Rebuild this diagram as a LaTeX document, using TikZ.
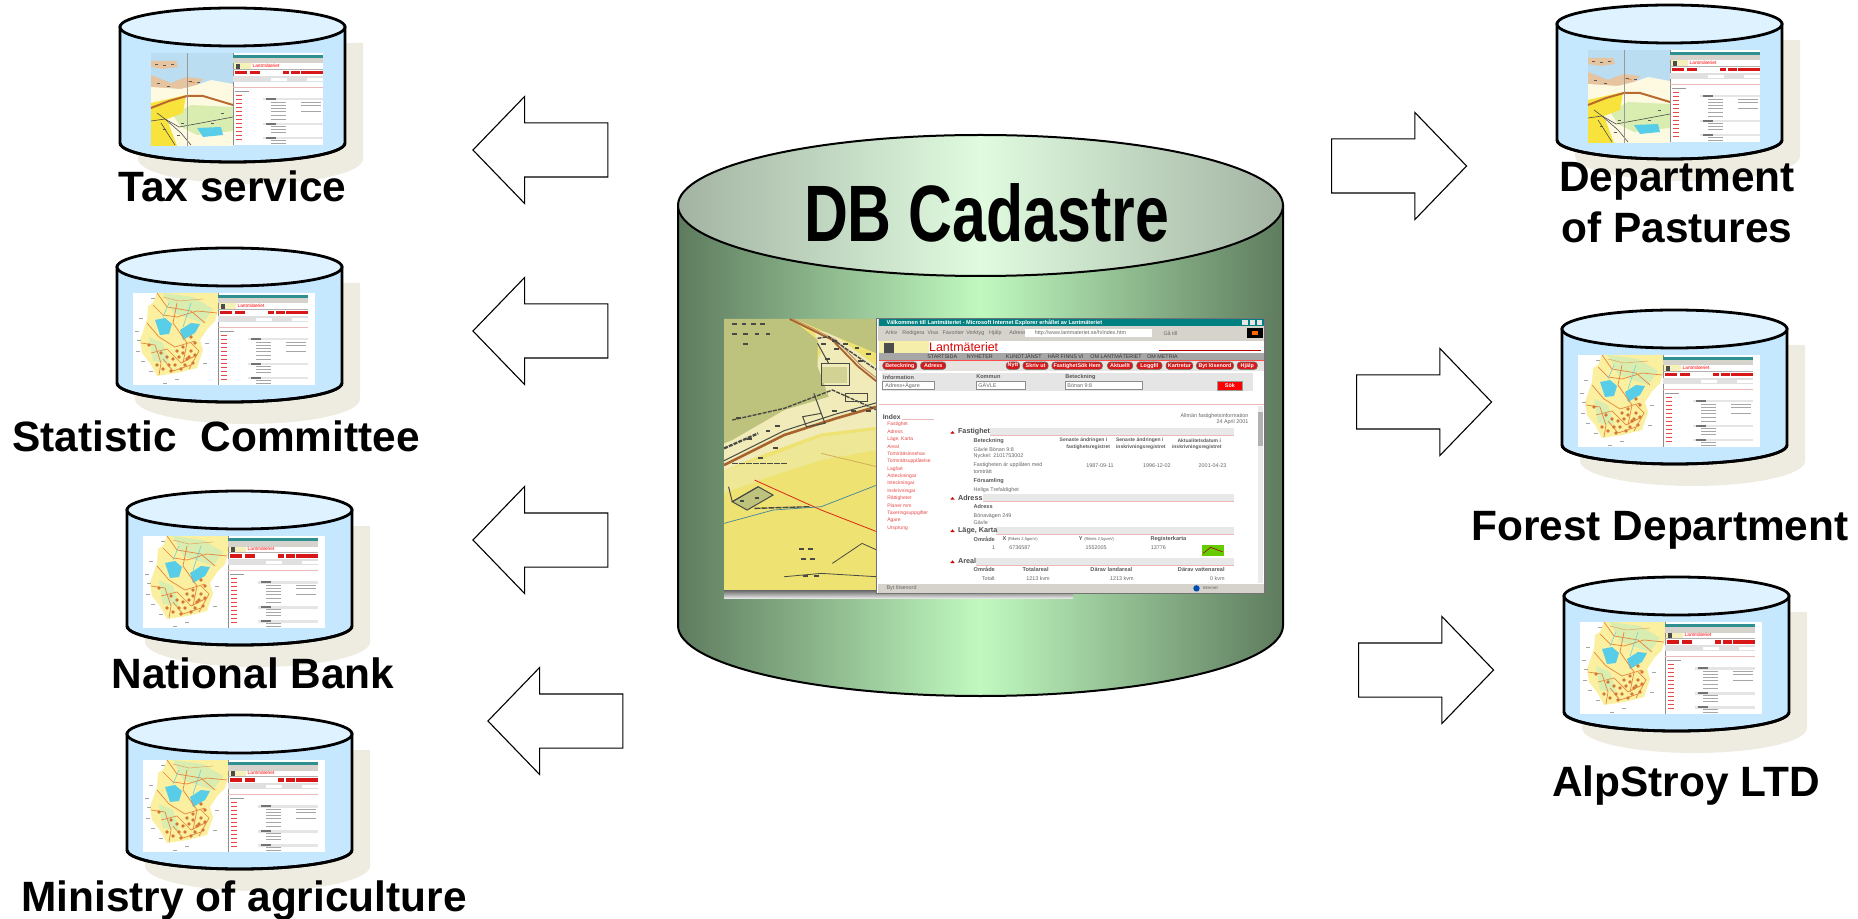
\documentclass[tikz,border=0pt]{standalone}
\usepackage{fontspec}
\setmainfont{Liberation Sans}
\usetikzlibrary{shapes.arrows}

\definecolor{cylbody}{HTML}{C6E8FF}
\definecolor{cyltop}{HTML}{DFF2FF}
\definecolor{cylshadow}{HTML}{EEECE1}
\definecolor{greenedge}{HTML}{5E7B5E}
\definecolor{greenmid}{HTML}{C0F9C0}
\definecolor{topedge}{HTML}{A3B3A3}
\definecolor{topmid}{HTML}{E0FBE0}
\definecolor{barteal}{HTML}{008080}
\definecolor{barlight}{HTML}{2E9090}
\definecolor{wingrey}{HTML}{D6D3CC}
\definecolor{btnred}{HTML}{D81818}
\definecolor{linkred}{HTML}{E84848}
\definecolor{rulepink}{HTML}{EDB8B8}
\definecolor{mapyellow}{HTML}{EDE272}
\definecolor{mapolive}{HTML}{BDC27C}
\definecolor{mapcream}{HTML}{F0EBB8}
\definecolor{maproad}{HTML}{A8622E}
\definecolor{mapdark}{HTML}{4A4A44}
\definecolor{mapsea}{HTML}{BBDDF2}
\definecolor{maplake}{HTML}{58CDE8}
\definecolor{maporange}{HTML}{E8853A}
\definecolor{mapisland}{HTML}{E6C4A0}
\definecolor{mapstrong}{HTML}{F7E33C}
\definecolor{mapland}{HTML}{FBEFA0}
\definecolor{mappale}{HTML}{D9EDB0}

\newcommand\thumbbrowser{
	\fill[white] (0,0) rectangle (90,92);
	\draw[black!45,line width=.5pt] (0,0) -- (0,92);
	\fill[barlight] (0,2) rectangle (90,5);
	\fill[wingrey] (0,5) rectangle (90,10.5);
	\fill[mapyellow!50!white] (1,10.5) rectangle (18,16);
	\fill[black!70] (3,11) rectangle (7,17);
	\node[font=\fontsize{2.4}{3}\selectfont,text=red,inner sep=0] (thumbtitle) at (33,13) {Lantmäteriet};
	\fill[black!30] (0,16) rectangle (90,17);
	\foreach \bx/\bw in {2/12,17/10,50/6,58/9,68/22}
		\fill[btnred] (\bx,18) rectangle ++(\bw,3.5);
	\fill[black!12] (0,23) rectangle (90,29);
	\fill[white] (38,25) rectangle ++(16,3);
	\fill[white] (74,25) rectangle ++(16,3);
	\fill[rulepink] (0,34) rectangle (90,34.6);
	\fill[black!40] (2,38) rectangle ++(14,1);
	\foreach \ly in {42,46,50,54,58,62,66,70,74,78,82,86}
		\fill[linkred] (3,\ly) rectangle ++(6,1);
	\foreach \sy in {45,70,84} {
		\fill[black!10] (30,\sy) rectangle (90,\sy+2.5);
		\fill[black!55] (33,\sy) rectangle ++(10,1.6);
	}
	\foreach \ly in {49,52,55,58,62,66,73,76,79,87,90}
		\fill[black!35] (38,\ly) rectangle ++(15,.8);
	\foreach \ly in {49,52,58}
		\fill[black!35] (68,\ly) rectangle ++(20,.8);
}

\newcommand\coastthumb{
	\begin{scope}[shift={(31,45)}]
		\fill[mapsea] (0,0) rectangle (82,93);
		\fill[mapisland] (0,8) -- (25,8) -- (27,14) -- (12,16) -- (0,14) -- cycle;
		\fill[mapisland] (0,22) -- (20,30) -- (30,26) -- (36,24) -- (52,26) -- (46,33) -- (30,38) -- (0,36) -- cycle;
		\fill[white!70!mapland] (0,34) -- (30,36) -- (46,32) -- (60,27) -- (82,31) -- (82,93) -- (0,93) -- cycle;
		\fill[mappale] (22,62) -- (40,52) -- (82,54) -- (82,78) -- (46,82) -- (30,74) -- cycle;
		\fill[mapstrong] (0,50) -- (35,42) -- (32,60) -- (16,66) -- (26,93) -- (0,93) -- cycle;
		\fill[maplake] (46,75) -- (70,74) -- (72,82) -- (52,84) -- cycle;
		\draw[maporange!80!black,line width=1pt] (0,55) -- (18,48) -- (36,43) -- (52,43) -- (82,52);
		\draw[black!70,line width=.3pt] (0,68) -- (14,66) -- (28,74) -- (50,70) -- (82,64);
		\draw[black!70,line width=.3pt] (10,70) -- (24,92);
		\draw[black!70,line width=.3pt] (6,60) -- (14,66) -- (30,80) -- (40,92);
		\draw[black!40,line width=.2pt] (36,0) -- (36,93);
		\draw[maporange,line width=.3pt] (36,28) -- (44,30);
		\foreach \dx/\dy in {4/11,12/12,20/11,6/30,16/33,38/28,46/29,12/76,26/82,60/70,70/60,30/70}
			\fill[black!65] (\dx,\dy) rectangle ++(3,.9);
	\end{scope}
	\begin{scope}[shift={(113,45)}]
		\thumbbrowser
	\end{scope}
}

\newcommand\swedenthumb{
	\begin{scope}[shift={(16,45)}]
		\fill[white] (0,0) rectangle (182,92);
		\fill[mapland] (24,0) -- (20,10) -- (15,13) -- (14,27) -- (7,47) -- (9,60) -- (17,70) -- (24,83) -- (44,80) -- (64,75) -- (70,57) -- (67,47) -- (75,35) -- (82,28) -- (85,18) -- (85,0) -- cycle;
		\fill[mappale] (30,0) -- (60,4) -- (80,16) -- (70,30) -- (40,20) -- cycle;
		\fill[mappale] (16,44) -- (30,50) -- (36,70) -- (20,68) -- cycle;
		\fill[maplake] (22,27) -- (32,25) -- (39,31) -- (36,41) -- (27,42) -- cycle;
		\fill[maplake] (47,37) -- (58,30) -- (67,31) -- (62,40) -- (50,47) -- cycle;
		\draw[maporange,line width=.35pt] (24,0) -- (34,14) -- (58,18) -- (72,30);
		\draw[maporange,line width=.35pt] (14,30) -- (26,44) -- (42,54) -- (62,48);
		\draw[maporange,line width=.35pt] (18,60) -- (34,56) -- (48,70) -- (64,62);
		\draw[maporange,line width=.35pt] (30,66) -- (40,78) -- (58,72);
		\draw[maporange,line width=.35pt] (44,10) -- (40,30) -- (54,50) -- (50,70);
		\draw[maporange,line width=.35pt] (20,12) -- (30,22) -- (44,24) -- (64,18) -- (84,20);
		\draw[maporange,line width=.35pt] (8,50) -- (22,52) -- (28,70) -- (26,82);
		\draw[maporange,line width=.35pt] (58,50) -- (66,58) -- (56,76);
		\draw[maporange!70!mappale,line width=.25pt] (30,4) -- (46,8) -- (70,6);
		\draw[maplake,line width=.25pt] (36,10) -- (30,24);
		\draw[maplake,line width=.25pt] (58,10) -- (50,34);
		\foreach \dx/\dy in {24/72,30/76,36/72,46/64,50/60,54/66,58/58,60/70,62/50,48/76,40/66,16/52,42/72,52/72,56/64,44/58,62/62,34/64,28/60,38/78,50/54,58/44}
			\fill[maporange!90!black] (\dx,\dy) circle[radius=.9pt];
		\foreach \dx/\dy in {6/25,2/38,4/47,3/58,8/68,16/78,30/90,42/86,18/5,70/70,72/50}
			\fill[black!35] (\dx,\dy) rectangle ++(4,1.1);
	\end{scope}
	\begin{scope}[shift={(101,45)}]
		\thumbbrowser
	\end{scope}
}

\tikzset{
	x=.5pt, y=-.5pt,
	dblabel/.style={font=\fontsize{21.2}{25.5}\selectfont\bfseries, align=center, inner sep=0},
	blockarrow/.style={draw=black, fill=white, line width=.55pt, single arrow, inner sep=0,
		single arrow head extend=13.25pt, single arrow head indent=0pt, single arrow tip angle=92,
		minimum height=67.5pt, minimum width=0pt},
	leftarrow/.style={blockarrow, shape border rotate=180},
	rightarrow/.style={blockarrow},
	shotsmall/.style={font=\fontsize{2.7}{3.4}\selectfont, inner sep=0, anchor=west, text=black!60},
	shotbold/.style={font=\fontsize{2.8}{3.4}\selectfont\bfseries, inner sep=0, anchor=west, text=black!65},
	shothead/.style={font=\fontsize{3.6}{4.4}\selectfont\bfseries, inner sep=0, anchor=west, text=black!70},
	shotlink/.style={font=\fontsize{2.5}{3}\selectfont, inner sep=0, anchor=west, text=linkred},
	shotbtn/.style={font=\fontsize{2.7}{3}\selectfont\bfseries, inner sep=0, text=white},
	pics/smalldb/.style={code={
		\fill[cylshadow] (18,35) -- (18,151) arc[start angle=180, end angle=360, x radius=56.25pt, y radius=12.5pt] -- (243,35) -- cycle;
		\filldraw[fill=cylbody, draw=black, line width=1.4pt] (0,19) -- (0,135) arc[start angle=180, end angle=360, x radius=56.25pt, y radius=9.5pt] -- (225,19) -- cycle;
		#1
		\draw[black, line width=1.4pt] (0,135) arc[start angle=180, end angle=360, x radius=56.25pt, y radius=9.5pt];
		\filldraw[fill=cyltop, draw=black, line width=1.4pt] (112.5,19) ellipse[x radius=56.25pt, y radius=9.5pt];
	}}
}

\begin{document}
\begin{tikzpicture}
	\useasboundingbox (0,0) rectangle (1858,919);

	\pic (taxdb) at (120,8) {smalldb=\coastthumb};
	\pic (statdb) at (117,248) {smalldb=\swedenthumb};
	\pic (bankdb) at (127,491) {smalldb=\swedenthumb};
	\pic (agridb) at (127,715) {smalldb=\swedenthumb};
	\pic (pasturedb) at (1557,5) {smalldb=\coastthumb};
	\pic (forestdb) at (1562,310) {smalldb=\swedenthumb};
	\pic (alpdb) at (1564,577) {smalldb=\swedenthumb};

	\node[dblabel] (taxlabel) at (232.5,186) {Tax service};
	\node[dblabel] (statlabel) at (216,436) {Statistic\ \ Committee};
	\node[dblabel] (banklabel) at (253,673) {National Bank};
	\node[dblabel] (agrilabel) at (244,901) {Ministry of agriculture};
	\node[dblabel] (pasturelabel) at (1677,203) {Department\\of Pastures};
	\node[dblabel] (forestlabel) at (1660,530) {Forest Department};
	\node[dblabel] (alplabel) at (1686,786) {AlpStroy LTD};

	\node[leftarrow] (taxarrow) at (553.5,150) {\rule{0pt}{26.5pt}};
	\node[leftarrow] (statarrow) at (553.5,331) {\rule{0pt}{26.5pt}};
	\node[leftarrow] (bankarrow) at (553.5,540) {\rule{0pt}{26.5pt}};
	\node[leftarrow] (agriarrow) at (568.5,721) {\rule{0pt}{26.5pt}};
	\node[rightarrow] (pasturearrow) at (1386,166) {\rule{0pt}{26.5pt}};
	\node[rightarrow] (forestarrow) at (1411,402) {\rule{0pt}{26.5pt}};
	\node[rightarrow] (alparrow) at (1413,670) {\rule{0pt}{26.5pt}};

	\filldraw[draw=black, line width=1pt, shading=axis, left color=greenedge, right color=greenedge, middle color=greenmid] (678,205.5) -- (678,625.5) arc[start angle=180, end angle=360, x radius=151.25pt, y radius=35.25pt] -- (1283,205.5) -- cycle;
	\filldraw[draw=black, line width=1pt, shading=axis, left color=topedge, right color=topedge, middle color=topmid] (980.5,205.5) ellipse[x radius=151.25pt, y radius=35.25pt];
	\node[font=\fontsize{40}{48}\selectfont\bfseries, inner sep=0] (dbtitle) at (986.5,213) {\scalebox{.76}[1]{DB Cadastre}};

	\begin{scope}[shift={(710,310)}, x=.1854pt, y=-.1667pt]
		\fill[top color=black!60, bottom color=black!6] (38,840) rectangle (979,866);

		\fill[mapyellow] (38,27) rectangle (450,840);
		\fill[mapcream] (38,400) -- (200,300) -- (300,130) -- (280,60) -- (330,70) -- (450,170) -- (450,350) -- (300,370) -- (150,430) -- (38,480) -- cycle;
		\fill[mapolive] (38,27) -- (220,27) -- (290,90) -- (290,170) -- (320,260) -- (200,300) -- (60,390) -- (38,400) -- cycle;
		\fill[mapolive] (230,27) -- (450,27) -- (450,130) -- (340,80) -- cycle;
		\fill[mapolive] (60,575) -- (130,530) -- (170,555) -- (100,600) -- cycle;
		\fill[mapolive!60!mapcream] (300,170) rectangle (370,220);
		\fill[mapcream!50!mapyellow] (38,480) -- (160,440) -- (300,380) -- (450,360) -- (450,420) -- (300,450) -- (160,500) -- (38,550) -- cycle;
		\draw[mapdark, line width=.5pt] (60,575) -- (130,530) -- (170,555) -- (100,600) -- cycle;
		\draw[maproad, line width=.9pt] (215,27) -- (330,90) -- (400,170) -- (450,215);
		\draw[maproad!70, line width=.5pt] (225,27) -- (340,90) -- (410,170) -- (450,205);
		\draw[maproad, line width=1.3pt] (38,465) -- (200,375) -- (340,325) -- (450,290);
		\draw[mapdark, line width=.5pt] (38,452) -- (200,362) -- (340,312) -- (450,278);
		\draw[mapdark, line width=1.1pt, dash pattern=on 2pt off .6pt] (38,415) -- (130,370);
		\draw[mapdark, line width=.7pt, dash pattern=on 2pt off .6pt] (60,330) -- (200,295) -- (330,240) -- (450,300);
		\draw[mapdark, line width=.7pt, dash pattern=on 2pt off .6pt] (290,85) -- (320,80) -- (450,180);
		\draw[mapdark, line width=.5pt] (300,160) rectangle (375,225);
		\draw[mapdark, line width=.5pt] (365,250) rectangle (425,275);
		\draw[mapdark, line width=.5pt] (250,320) -- (300,310) -- (310,340) -- (260,350) -- cycle;
		\draw[mapdark, line width=.5pt] (280,250) -- (300,310);
		\draw[mapdark, line width=.5pt] (320,160) -- (290,100);
		\draw[maproad!40!mapyellow, line width=.4pt] (300,430) -- (450,470);
		\draw[red!60!maproad, line width=.4pt] (120,510) -- (300,600) -- (450,665);
		\draw[mapdark, line width=.7pt, dash pattern=on 3pt off .5pt] (60,460) -- (210,460);
		\draw[mapdark, line width=.7pt, dash pattern=on 3pt off .5pt] (120,595) -- (270,590);
		\draw[mapdark, line width=.5pt] (50,530) -- (60,575) -- (130,530);
		\draw[black!40!cyan, line width=.35pt] (38,640) -- (170,600) -- (300,590) -- (450,525);
		\draw[mapdark, line width=.4pt] (200,800) -- (300,790) -- (450,800);
		\draw[mapdark, line width=.4pt] (330,760) -- (410,700) -- (450,720);
		\foreach \dx/\dy in {60/40,85/40,110/40,135/40,60/70,90/70,120/70,150/70,90/100,330/90,360/100,390/110,420/130,175/345,150/360,100/385,70/320,240/715,265/715,245/745,270/745,250/795,280/795,80/570,120/560,300/100,335/115,310/145,400/150,330/300,380/300,420/300,130/440,170/410}
			\fill[mapdark] (\dx,\dy) rectangle ++(13,6);

		\filldraw[fill=white, draw=black!55, line width=.6pt] (450,25) rectangle (1497,850);
		\fill[wingrey] (452,27) rectangle (1495,92);
		\fill[barteal] (455,28) rectangle (1493,48);
		\node[font=\fontsize{2.8}{3.4}\selectfont\bfseries, text=white, inner sep=0, anchor=west] (wintitle) at (475,37) {Välkommen till Lantmäteriet - Microsoft Internet Explorer erhållet av Lantmäteriet};
		\fill[black!10] (1435,30) rectangle ++(15,15);
		\fill[black!10] (1455,30) rectangle ++(15,15);
		\fill[black!10] (1475,30) rectangle ++(15,15);
		\foreach \mx/\mt [count=\i] in {472/Arkiv, 518/Redigera, 586/Visa, 626/Favoriter, 690/Verktyg, 752/Hjälp, 806/Adress}
			\node[shotsmall] (menu\i) at (\mx,69) {\mt};
		\fill[white] (850,58) rectangle (1192,80);
		\node[shotsmall] (urltext) at (875,69) {http://www.lantmateriet.se/h/index.htm};
		\node[shotsmall] (gotext) at (1222,69) {Gå till};
		\fill[black] (1448,53) rectangle (1492,85);
		\fill[red!60!yellow] (1462,62) rectangle ++(16,14);
		\fill[mapyellow!60!white] (455,92) rectangle (590,130);
		\fill[black!70] (470,100) rectangle (495,145);
		\node[font=\fontsize{6.2}{7}\selectfont, text=red!85!black, inner sep=0, anchor=west] (shotlogo) at (590,112) {Lantmäteriet};
		\fill[black!35] (455,130) rectangle (1493,150);
		\foreach \nx/\nt [count=\i] in {585/STARTSIDA, 692/NYHETER, 797/KUNDTJÄNST, 910/HÄR FINNS VI, 1025/OM LANTMÄTERIET, 1178/OM METRIA}
			\node[shotsmall, text=black!80] (nav\i) at (\nx,140) {\nt};
		\foreach \rx in {1210,1300,1392}
			\draw[red!70!black, line width=.4pt] (\rx,120) -- ++(95,0);
		\fill[wingrey!60!white] (455,153) rectangle (1493,182);
		\fill[red!70!white] (455,151) rectangle (1493,153);
		\foreach \cx/\cw/\bt [count=\i] in {512/92/Beteckning, 602/68/Adress, 817/36/Nytt, 878/68/Skriv ut, 990/136/FastighetSök Hem, 1106/68/Aktuellt, 1185/68/Loggfil, 1266/72/Kartretur, 1362/100/Byt lösenord, 1449/54/Hjälp} {
			\filldraw[fill=btnred, draw=black!60, line width=.3pt, rounded corners=1.5pt] (\cx-\cw/2,156) rectangle (\cx+\cw/2,178);
			\node[shotbtn] (btn\i) at (\cx,167) {\bt};
		}
		\fill[black!10] (465,190) rectangle (1465,243);
		\foreach \fx/\ft [count=\i] in {466/Information, 717/Kommun, 957/Beteckning}
			\node[shotbold] (formhead\i) at (\fx,201) {\ft};
		\foreach \fx/\fw/\ft [count=\i] in {466/138/Adress+Ägare, 717/132/GÄVLE, 957/210/Bönan 9:8} {
			\filldraw[fill=white, draw=black!45, line width=.3pt] (\fx,215) rectangle ++(\fw,24);
			\node[shotsmall] (field\i) at (\fx+6,227) {\ft};
		}
		\filldraw[fill=red, draw=black!40, line width=.3pt] (1368,215) rectangle (1436,240);
		\node[shotbtn] (searchbtn) at (1402,228) {Sök};
		\fill[rulepink] (455,282) rectangle (1493,285);

		\node[shothead, font=\fontsize{3.4}{4}\selectfont\bfseries] (indexhead) at (465,320) {Index};
		\fill[rulepink] (518,326) rectangle (605,329);
		\foreach \ly/\lt [count=\i] in {344/Fastighet, 366/Adress, 388/{Läge, Karta}, 410/Areal, 432/Tomträttsinnehav, 454/Tomträttsupplåtelse, 477/Lagfart, 499/Anteckningar, 521/Inteckningar, 543/Inskrivningar, 565/Rättigheter, 587/Planer mm, 609/Taxeringsuppgifter, 631/Ägare, 654/Ursprung}
			\node[shotlink] (link\i) at (477,\ly) {\lt};
		\node[shotsmall, anchor=east] (infotext) at (1453,317) {Allmän fastighetsinformation};
		\node[shotsmall, anchor=east] (datetext) at (1453,337) {24 April 2001};

		\foreach \sy/\st/\sx [count=\i] in {366/Fastighet/755, 564/Adress/735, 661/{Läge, Karta}/772, 754/Areal/718} {
			\fill[black!9] (\sx,\sy-11) rectangle (1413,\sy+11);
			\fill[rulepink] (\sx,\sy+10) rectangle (1413,\sy+13);
			\fill[red!80!black] (648,\sy+5) -- (654,\sy-3) -- (660,\sy+5) -- cycle;
			\node[shothead] (section\i) at (668,\sy) {\st};
		}
		\foreach \tx/\ty/\tt [count=\i] in {710/392/Beteckning, 710/513/Församling, 710/590/Adress, 710/687/Område, 1187/687/Registerkarta, 710/779/Område, 842/779/Totalareal, 1025/779/Därav landareal, 1261/779/Därav vattenareal}
			\node[shotbold] (bold\i) at (\tx,\ty) {\tt};
		\foreach \tx/\ty/\tt [count=\i] in {942/392/Senaste ändringen i, 960/412/fastighetsregistret, 1094/392/Senaste ändringen i, 1094/412/inskrivningsregistret, 1260/392/Aktualitetsdatum i, 1245/412/inskrivningsregistret}
			\node[shotbold, font=\fontsize{2.5}{3}\selectfont\bfseries] (colhead\i) at (\tx,\ty) {\tt};
		\foreach \tx/\ty/\tt [count=\i] in {710/419/Gävle Bönan 9:8, 710/439/Nyckel: 2101753002, 710/466/Fastigheten är upplåten med, 710/486/tomträtt, 1014/466/1987-09-11, 1167/466/1996-12-02, 1317/466/2001-04-23, 710/540/Heliga Trefaldighet, 710/617/Bönavägen 249, 710/637/Gävle, 760/714/1, 806/714/6736587, 1012/714/1552005, 1188/714/13776, 732/806/Totalt, 852/806/1213 kvm, 1078/806/1213 kvm, 1348/806/0 kvm}
			\node[shotsmall] (cell\i) at (\tx,\ty) {\tt};
		\node[shotbold] (xhead) at (788,687) {X {\mdseries\fontsize{2}{2.4}\selectfont (Rikets 2,5gonV)}};
		\node[shotbold] (yhead) at (994,687) {Y {\mdseries\fontsize{2}{2.4}\selectfont (Rikets 2,5gonV)}};
		\fill[green!50!yellow!80!black] (1326,705) rectangle (1386,737);
		\draw[red!60!black, line width=.3pt] (1330,730) -- (1350,712) -- (1382,725);

		\fill[black!8] (1478,287) rectangle (1492,820);
		\fill[black!30] (1478,305) rectangle (1492,408);
		\fill[wingrey] (452,822) rectangle (1495,848);
		\node[shotsmall] (statusleft) at (475,834) {Byt lösenord};
		\fill[blue!70!green] (1312,835) circle[radius=1.6pt];
		\node[shotsmall, font=\fontsize{2.2}{3}\selectfont] (statusright) at (1328,834) {Internet};
	\end{scope}
\end{tikzpicture}
\end{document}
